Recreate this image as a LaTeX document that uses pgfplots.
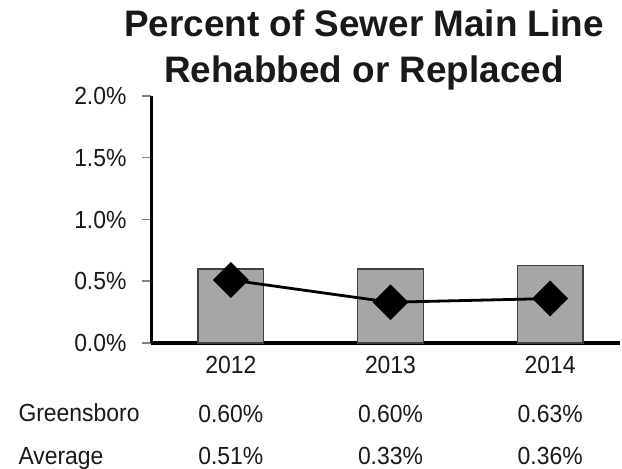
\documentclass[border=0pt]{standalone}
\usepackage{pgfplots}
\pgfplotsset{compat=1.18}
\usepackage{fontspec}
\setmainfont{Liberation Sans}
\definecolor{bargray}{HTML}{A6A6A6}
\definecolor{baredge}{HTML}{404040}
\begin{document}
\begin{tikzpicture}
\useasboundingbox (0,0) rectangle (622bp,469bp);
\begin{axis}[
  at={(151bp,126bp)}, anchor=south west,
  scale only axis, width=469bp, height=247bp,
  xmin=-0.5, xmax=2.4375, ymin=0, ymax=2.0,
  axis x line*=bottom, axis y line*=left,
  axis line style={-, line width=3bp, black},
  xtick={0,1,2}, xticklabels={2012,2013,2014},
  x tick style={draw=none},
  ytick={0,0.5,1.0,1.5,2.0},
  y tick style={gray, line width=1.5bp},
  tick align=outside, major tick length=9bp,
  yticklabel={\pgfmathprintnumber[fixed,fixed zerofill,precision=1]{\tick}\%},
  /pgf/number format/assume math mode=true,
  ticklabel style={font=\fontsize{23}{27}\selectfont, text=black!90, yscale=1.08},
  yticklabel style={xshift=-12bp},
  xticklabel style={anchor=base, yshift=-20bp},
  clip=false,
]
\addplot[ybar, bar width=0.41, fill=bargray, draw=baredge, line width=1.3bp]
  coordinates {(0,0.60) (1,0.60) (2,0.63)};
\addplot[black, line width=2.8bp, mark=square*, mark size=11.3bp,
  mark options={rotate=45, fill=black}]
  coordinates {(0,0.51) (1,0.33) (2,0.36)};
\foreach \x/\g/\a in {0/0.60/0.51, 1/0.60/0.33, 2/0.63/0.36} {
  \edef\tmp{\noexpand\node[anchor=base, yscale=1.08, font=\noexpand\fontsize{23}{27}\noexpand\selectfont, text=black!90] at ([yshift=-79bp]axis cs:\x,0) {\g\noexpand\%};
  \noexpand\node[anchor=base, yscale=1.08, font=\noexpand\fontsize{23}{27}\noexpand\selectfont, text=black!90] at ([yshift=-121bp]axis cs:\x,0) {\a\noexpand\%};}
  \tmp
}
\end{axis}
\node[anchor=base west, yscale=1.08, font=\fontsize{23}{27}\selectfont, text=black!90] at (15bp,47bp) {Greensboro};
\node[anchor=base west, yscale=1.08, font=\fontsize{23}{27}\selectfont, text=black!90] at (15bp,5bp) {Average};
\node[anchor=base, font=\fontsize{37}{44}\selectfont\bfseries, text=black!90] at (364bp,432bp) {Percent of Sewer Main Line};
\node[anchor=base, font=\fontsize{37}{44}\selectfont\bfseries, text=black!90] at (364bp,386bp) {Rehabbed or Replaced};
\end{tikzpicture}
\end{document}
